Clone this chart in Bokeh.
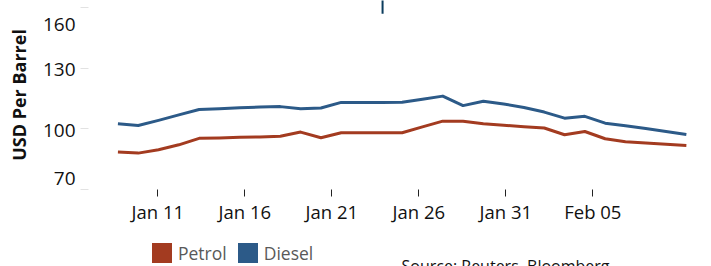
import pandas as pd
from bokeh.plotting import figure
from bokeh.layouts import column
from bokeh.models import (FixedTicker, DatetimeTickFormatter, Label, Legend,
                          LegendItem, ColumnDataSource, Range1d, LinearAxis)
from bokeh.embed import file_html
from bokeh.resources import INLINE

# ---- data ----
dates = [
    "2023-01-08 17:00", "2023-01-09 21:00", "2023-01-11 01:00", "2023-01-12 05:00",
    "2023-01-13 09:00", "2023-01-14 13:00", "2023-01-15 17:00", "2023-01-16 21:00",
    "2023-01-18 01:00", "2023-01-19 05:00", "2023-01-20 09:00", "2023-01-21 13:00",
    "2023-01-22 17:00", "2023-01-23 21:00", "2023-01-25 01:00", "2023-01-26 05:00",
    "2023-01-27 09:00", "2023-01-28 13:00", "2023-01-29 17:00", "2023-01-30 21:00",
    "2023-02-01 01:00", "2023-02-02 05:00", "2023-02-03 09:00", "2023-02-04 13:00",
    "2023-02-05 17:00", "2023-02-06 21:00", "2023-02-08 01:00", "2023-02-09 05:00",
    "2023-02-10 09:00",
]
petrol = [88.5, 88.0, 89.7, 92.1, 95.3, 95.5, 95.8, 96.0, 96.3, 98.4, 95.6, 98.1,
          98.1, 98.1, 98.1, 101.0, 103.8, 103.8, 102.5, 101.8, 101.1, 100.4, 97.1,
          98.7, 95.1, 93.6, 93.0, 92.4, 91.8]
diesel = [102.5, 101.7, 104.2, 106.9, 109.6, 110.0, 110.4, 110.8, 111.0, 110.0, 110.3,
          113.1, 113.1, 113.1, 113.2, 114.7, 116.2, 111.5, 113.7, 112.3, 110.6, 108.3,
          105.3, 106.2, 102.8, 101.5, 100.2, 98.7, 97.2]
series_names = ["Petrol", "Diesel"]
series_colors = ["#a33b20", "#2c5a88"]
tick_dates = ["2023-01-11", "2023-01-16", "2023-01-21", "2023-01-26", "2023-01-31", "2023-02-05"]
y_ticks = [70, 100, 130, 160]
marker_dates = ["2023-01-23 22:00"]
y_title = "USD Per Barrel"
source_text = "Source: Reuters, Bloomberg"

FONT = "Open Sans"

# ---- layout constants (pixels) ----
W = 711
MAIN_H = 232
FOOT_H = 266 - MAIN_H
FRAME_LEFT = 88
FRAME_H = 189
Y_START, Y_END = 70, 163.5
PPU = FRAME_H / (Y_END - Y_START)
# end labels are pulled inwards (px, positive = down), as in the original
label_nudge_px = {160: 16.5, 130: 1.6, 100: 1.8, 70: -11}

src = ColumnDataSource(dict(date=pd.to_datetime(dates), petrol=petrol, diesel=diesel))

p = figure(width=W, height=MAIN_H, x_axis_type="datetime", output_backend="svg",
           toolbar_location=None,
           x_range=Range1d(pd.Timestamp("2023-01-07 00:25"), pd.Timestamp("2023-02-11 19:40")),
           y_range=Range1d(Y_START, Y_END),
           min_border_left=FRAME_LEFT, min_border_right=0, min_border_top=0,
           min_border_bottom=MAIN_H - FRAME_H)
p.outline_line_color = None
p.xgrid.grid_line_color = None
p.ygrid.grid_line_color = None

p.line("date", "petrol", source=src, line_color=series_colors[0], line_width=3,
       line_join="round")
p.line("date", "diesel", source=src, line_color=series_colors[1], line_width=3,
       line_join="round")

# small dark marker at the top edge
p.segment(x0=pd.to_datetime(marker_dates), y0=[157.0], x1=pd.to_datetime(marker_dates),
          y1=[170], line_color="#0b3c5d", line_width=2)

# x axis
xa = p.xaxis[0]
xa.ticker = FixedTicker(ticks=[pd.Timestamp(d).value / 1e6 for d in tick_dates])
fmt = "%b %d"
xa.formatter = DatetimeTickFormatter(days=fmt, months=fmt, hours=fmt, years=fmt)
xa.axis_line_color = None
xa.major_tick_line_color = "#222222"
xa.major_tick_out = 7
xa.major_tick_in = 0
xa.minor_tick_line_color = None
xa.major_label_text_font = FONT
xa.major_label_text_font_size = "18.5px"
xa.major_label_text_color = "#111111"
xa.major_label_standoff = 2

# y axis: faint tick marks at the true values
ya = p.yaxis[0]
ya.ticker = FixedTicker(ticks=y_ticks)
ya.major_label_overrides = {v: "" for v in y_ticks}
ya.axis_line_color = None
ya.major_tick_line_color = "#e2e2e2"
ya.major_tick_out = 8
ya.major_tick_in = 0
ya.minor_tick_line_color = None
ya.major_label_standoff = 0

# y axis labels + title (labels nudged like the original's)
label_pos = [round(v - label_nudge_px[v] / PPU, 2) for v in y_ticks]
ya2 = LinearAxis(ticker=FixedTicker(ticks=label_pos),
                 major_label_overrides={pos: str(v) for pos, v in zip(label_pos, y_ticks)})
ya2.axis_line_color = None
ya2.major_tick_line_color = None
ya2.major_tick_out = 0
ya2.major_tick_in = 0
ya2.minor_tick_line_color = None
ya2.major_label_text_font = FONT
ya2.major_label_text_font_size = "19px"
ya2.major_label_text_color = "#111111"
ya2.major_label_standoff = 5
ya2.axis_label = y_title
ya2.axis_label_text_font = FONT
ya2.axis_label_text_font_size = "18px"
ya2.axis_label_text_font_style = "bold"
ya2.axis_label_text_color = "#111111"
ya2.axis_label_standoff = 9
p.add_layout(ya2, "left")

# ---- footer: legend and source (its frame is aligned with the main frame) ----
f = figure(width=W, height=FOOT_H, output_backend="svg", toolbar_location=None,
           x_axis_location=None, y_axis_location=None,
           x_range=Range1d(0, 1), y_range=Range1d(0, 1),
           min_border_left=0, min_border_right=0, min_border_top=0, min_border_bottom=0)
f.outline_line_color = None
f.grid.visible = False

nan_src = ColumnDataSource(dict(x=[float("nan")], y=[float("nan")]))
swatches = [f.rect("x", "y", width=1, height=1, source=nan_src, fill_color=c, line_color=None)
            for c in series_colors]
legend = Legend(items=[LegendItem(label=n, renderers=[r]) for n, r in zip(series_names, swatches)],
                orientation="horizontal", location=(149 - FRAME_LEFT, 1),
                glyph_width=25, glyph_height=25, label_standoff=4, spacing=8,
                padding=0, margin=0, border_line_color=None,
                background_fill_alpha=0, label_text_font=FONT,
                label_text_font_size="17.5px", label_text_color="#595959")
f.add_layout(legend)

f.add_layout(Label(x=401 - FRAME_LEFT, y=1, x_units="screen", y_units="screen",
                   text=source_text, text_align="left", text_baseline="alphabetic",
                   text_font=FONT, text_font_size="16px", text_color="#111111"))

layout = column(p, f, spacing=0)
open("out.html", "w").write(file_html(layout, INLINE))
